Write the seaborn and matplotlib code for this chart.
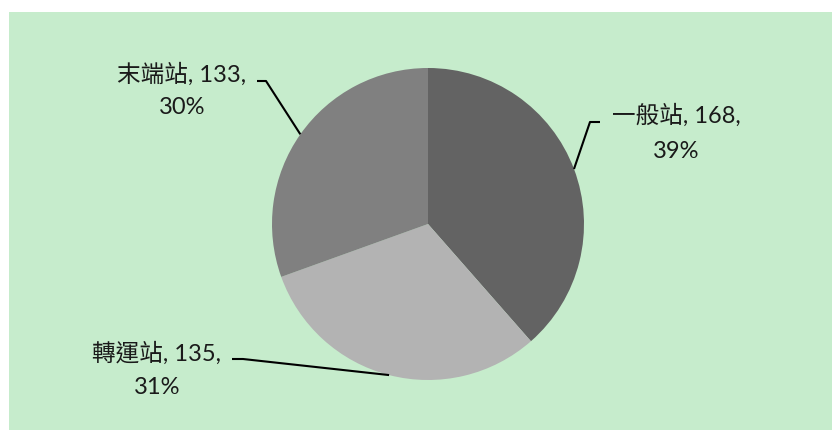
import numpy as np
import matplotlib
matplotlib.use("Agg")
import matplotlib.pyplot as plt
import seaborn as sns
from matplotlib.patches import Rectangle

# Station types and counts
categories = ["一般站", "轉運站", "末端站"]
counts = [168, 135, 133]
percents = [39, 31, 30]
colors = ["#636363", "#B3B3B3", "#808080"]

sns.set_theme(style="white")
plt.rcParams["font.family"] = ["Lato", "Noto Sans CJK TC", "DejaVu Sans"]

W, H = 832, 430
fig = plt.figure(figsize=(W / 100, H / 100), dpi=100)
fig.patch.set_facecolor("white")
ax = fig.add_axes([0, 0, 1, 1])
ax.set_xlim(0, W)
ax.set_ylim(0, H)
ax.set_aspect("equal")
ax.axis("off")

def py(y):
    # convert top-origin pixel row to axis y
    return H - y

# chart area background
ax.add_patch(Rectangle((9, 0), W - 9, H - 12, facecolor="#C6ECCC",
                       edgecolor="none", zorder=0))

cx, cy, r = 428, py(224), 156
wedges, _ = ax.pie(counts, colors=sns.color_palette(colors), startangle=90,
                   counterclock=False, center=(cx, cy), radius=r,
                   wedgeprops=dict(linewidth=0))
ax.set_xlim(0, W)
ax.set_ylim(0, H)

# label layout: (block centre x, line1 y, line2 y, elbow point, line end near text)
layout = {
    "一般站": dict(tx=676, y1=115, y2=151, elbow=(590, 122), end=(600, 122)),
    "轉運站": dict(tx=157, y1=353, y2=387, elbow=(243, 359), end=(232, 359)),
    "末端站": dict(tx=182, y1=74, y2=107, elbow=(266, 81), end=(257, 81)),
}

fs = 17
for w, cat, val, pct in zip(wedges, categories, counts, percents):
    mid = np.deg2rad((w.theta1 + w.theta2) / 2)
    ax_x = cx + r * np.cos(mid)
    ax_y = cy + r * np.sin(mid)
    L = layout[cat]
    ex, ey = L["elbow"]
    nx, ny = L["end"]
    ax.plot([ax_x, ex, nx], [ax_y, py(ey), py(ny)], color="black",
            lw=1.5, solid_capstyle="butt", zorder=3)
    ax.text(L["tx"], py(L["y1"]), f"{cat}, {val},", ha="center", va="center",
            fontsize=fs, color="#1a1a1a", zorder=4)
    ax.text(L["tx"], py(L["y2"]), f"{pct}%", ha="center", va="center",
            fontsize=fs, color="#1a1a1a", zorder=4)

fig.savefig("out.png", dpi=100, facecolor=fig.get_facecolor())
